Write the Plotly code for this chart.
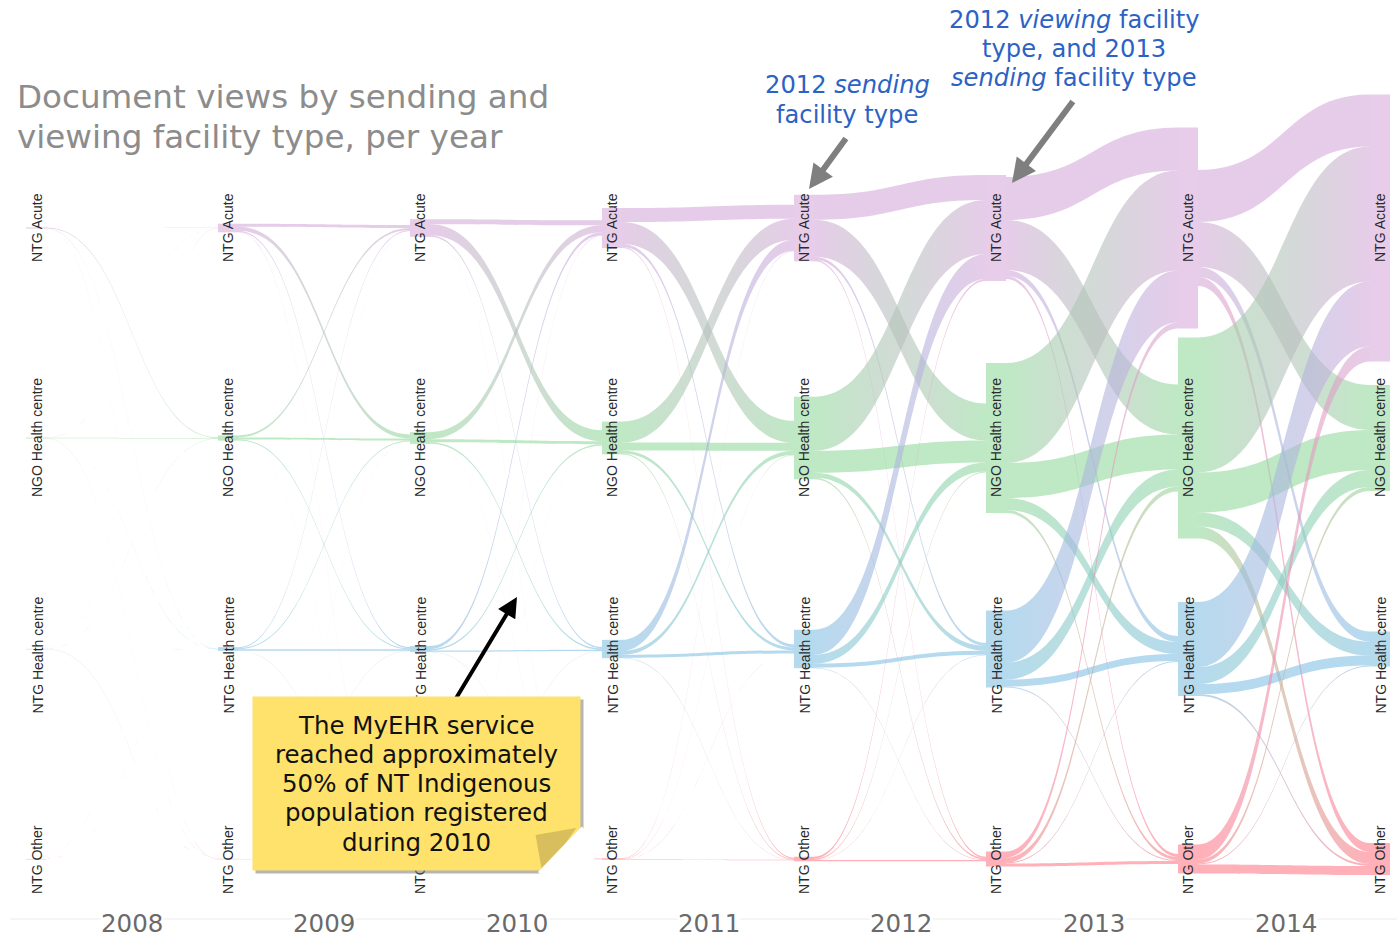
import json
import plotly.graph_objects as go

W, H = 1397, 938
years = ["2008", "2009", "2010", "2011", "2012", "2013", "2014"]
facilities = ["NTG Acute", "NGO Health centre", "NTG Health centre", "NTG Other"]

# flows between consecutive years: rows = sending facility, columns = viewing facility
flows_2008 = [[0.10, 0.70, 0.20, 0.20], [0.10, 0.50, 0.20, 0.10], [0.05, 0.10, 0.10, 0.05], [0.02, 0.03, 0.02, 0.05]]
flows_2009 = [[3.0, 4.0, 1.2, 0.4], [2.0, 2.0, 1.0, 0.2], [1.0, 1.0, 1.5, 0.1], [0.1, 0.1, 0.1, 0.1]]
flows_2010 = [[5.0, 11.0, 1.5, 0.2], [7.0, 3.0, 1.5, 0.2], [3.0, 1.5, 1.2, 0.2], [0.3, 0.2, 0.1, 0.2]]
flows_2011 = [[14.0, 22.0, 3.0, 1.0], [21.0, 8.0, 3.0, 0.8], [11.0, 4.0, 3.0, 0.3], [0.5, 0.3, 0.2, 0.5]]
flows_2012 = [[25.0, 37.0, 3.0, 1.5], [54.0, 22.0, 5.0, 1.5], [25.0, 9.0, 4.0, 0.5], [2.0, 1.0, 0.3, 1.2]]
flows_2013 = [[43.0, 50.0, 6.0, 3.0], [100.0, 35.0, 12.0, 3.0], [52.0, 17.0, 7.0, 1.0], [6.0, 5.0, 1.0, 3.0]]
flows_2014 = [[52.0, 45.0, 10.0, 9.0], [135.0, 40.0, 14.0, 12.0], [65.0, 17.0, 10.0, 2.0], [15.0, 4.0, 1.0, 9.0]]
all_flows = [flows_2008, flows_2009, flows_2010, flows_2011, flows_2012, flows_2013, flows_2014]

# layout of the columns and rows, in pixels
col_centers = [36 + 192 * i for i in range(8)]
row_centers = [228, 438, 649, 859]
label_centers = [228, 438, 655.5, 860]
THICK = 20
base_rgb = [(213, 170, 217), (148, 217, 157), (132, 193, 227), (255, 123, 137)]
node_rgb = ["#E7CDE9", "#BFE8C5", "#B5DAEE", "#FFB0B8"]
ALPHA = 0.6
CLEAR = "rgba(255,255,255,0.01)"

n_col, n_row = 8, 4
idx = lambda c, r: c * n_row + r
DUMMY_IN = n_col * n_row
DUMMY_OUT = DUMMY_IN + 1

in_sum = [[0.0] * n_row for _ in range(n_col)]
out_sum = [[0.0] * n_row for _ in range(n_col)]
src, tgt, val, col = [], [], [], []
for g, m in enumerate(all_flows):
    for s in range(n_row):
        for t in range(n_row):
            v = m[s][t]
            src.append(idx(g, s)); tgt.append(idx(g + 1, t)); val.append(v)
            a, b = base_rgb[s], base_rgb[t]
            c = tuple(round((a[k] + b[k]) / 2) for k in range(3))
            col.append(f"rgba({c[0]},{c[1]},{c[2]},{ALPHA})")
            out_sum[g][s] += v
            in_sum[g + 1][t] += v

# the reference centres each side's ribbons on its node: spacer links push them down
heights = [[max(in_sum[c][r], out_sum[c][r]) for r in range(n_row)] for c in range(n_col)]
pad_in_total = pad_out_total = 0.0
for c in range(n_col):
    for r in range(n_row):
        h = heights[c][r]
        if c < n_col - 1 and h - out_sum[c][r] > 0.01:
            p = (h - out_sum[c][r]) / 2
            src.append(idx(c, r)); tgt.append(DUMMY_OUT); val.append(p); col.append(CLEAR)
            pad_out_total += p
        if c > 0 and h - in_sum[c][r] > 0.01:
            p = (h - in_sum[c][r]) / 2
            src.append(DUMMY_IN); tgt.append(idx(c, r)); val.append(p); col.append(CLEAR)
            pad_in_total += p

# choose node padding so that one unit of value is exactly one pixel
col_totals = [sum(heights[c]) for c in range(n_col)]
col_totals[0] += pad_in_total
col_totals[-1] += pad_out_total
col_counts = [n_row] * n_col
col_counts[0] += 1
col_counts[-1] += 1
node_pad = min((H - t) / (n - 1) for t, n in zip(col_totals, col_counts))

node_x, node_y, node_col = [], [], []
for c in range(n_col):
    for r in range(n_row):
        node_x.append(col_centers[c] / W)
        node_y.append(row_centers[r] / H)
        node_col.append(node_rgb[r])
node_x += [0.001, 0.999]
node_y += [0.0001, 0.0001]
node_col += [CLEAR, CLEAR]

fig = go.Figure(go.Sankey(
    arrangement="fixed",
    domain=dict(x=[0, 1], y=[0, 1]),
    node=dict(x=node_x, y=node_y, color=node_col, thickness=THICK, pad=node_pad,
              line=dict(width=0), hoverinfo="none"),
    link=dict(source=src, target=tgt, value=val, color=col, hoverinfo="none", line=dict(width=0)),
))

X = lambda p: p / W
Y = lambda p: 1 - p / H
anns = []

def note(x, y, text, size, color, font="DejaVu Sans", angle=0, **kw):
    anns.append(dict(xref="paper", yref="paper", x=X(x), y=Y(y), text=text, showarrow=False,
                     font=dict(family=font, size=size, color=color), textangle=angle,
                     xanchor=kw.pop("xanchor", "center"), yanchor="middle", borderpad=0, **kw))

def arrow(x0, y0, x1, y1, color, width, size):
    anns.append(dict(xref="paper", yref="paper", x=X(x1), y=Y(y1), ax=x0 - x1, ay=y0 - y1,
                     axref="pixel", ayref="pixel", text="", showarrow=True, arrowhead=2,
                     arrowsize=size, arrowwidth=width, arrowcolor=color, standoff=0))

for c in range(n_col):
    for r in range(n_row):
        note(col_centers[c] + (1 if c == 0 else 0), label_centers[r], facilities[r], 14,
             "#2a2a2a", font="Liberation Sans", angle=-90)

for i, yr in enumerate(years):
    note(132 + 192.3 * i, 923, yr, 24.5, "#6a6a6a", bgcolor="white")

note(16, 97, "Document views by sending and", 32.6, "#8c8c8c", xanchor="left")
note(16, 137, "viewing facility type, per year", 32.6, "#8c8c8c", xanchor="left")

BLUE = "#2b62c4"
note(847, 85, "2012 <i>sending</i>", 24.2, BLUE)
note(847, 115, "facility type", 24.2, BLUE)
note(1074, 20, "2012 <i>viewing</i> facility", 24.2, BLUE)
note(1074, 49, "type, and 2013", 24.2, BLUE)
note(1074, 78, "<i>sending</i> facility type", 24.2, BLUE)
arrow(847, 137, 809, 189, "#7f7f7f", 6, 0.8)
arrow(1074, 100, 1012, 183, "#7f7f7f", 6, 0.8)
arrow(455, 700, 517, 597, "#000000", 4, 1.0)

# yellow note
note(419.5, 786, "&nbsp;", 10, "#000", bgcolor="rgba(120,120,120,0.55)", width=327, height=173)
note(416.5, 783.5, "&nbsp;", 10, "#000", bgcolor="#FEE26C", width=327, height=173)
note(559, 847, "◤", 54, "#D9BE5E", angle=-10)
note(571, 860, "&nbsp;", 10, "#000", bgcolor="white", width=62, height=30, angle=-46)
note(574, 866, "&nbsp;", 10, "#000", bgcolor="white", width=22, height=16)
for i, line in enumerate(["The MyEHR service", "reached approximately", "50% of NT Indigenous",
                          "population registered", "during 2010"]):
    note(416, 725 + 29.3 * i, line, 24.5, "#111111")

fig.update_layout(
    width=W, height=H, margin=dict(l=0, r=0, t=0, b=0, pad=0),
    paper_bgcolor="white", annotations=anns, showlegend=False,
    shapes=[dict(type="line", xref="paper", yref="paper", x0=X(10), x1=1, y0=Y(919), y1=Y(919),
                 line=dict(color="#ececec", width=1))],
)

# the reference's ribbons fade from the sender's colour to the viewer's:
# restyle the paths from the geometry that the Sankey trace has computed
post = """
document.body.style.margin='0';document.documentElement.style.overflow='hidden';
(function(){
 var NS='http://www.w3.org/2000/svg', RGB=%s, N=%d, A=%f;
 function css(c){return 'rgb('+c.join(',')+')';}
 function apply(){
  var paths=document.querySelectorAll('.sankey-link');
  if(!paths.length) return;
  var host=paths[0].ownerSVGElement, defs=host.querySelector('defs.ribbons');
  if(!defs){defs=document.createElementNS(NS,'defs');defs.setAttribute('class','ribbons');host.appendChild(defs);}
  paths.forEach(function(p,i){
   var d=p.__data__; if(!d||!d.link) return; var l=d.link;
   var si=l.source.pointNumber, ti=l.target.pointNumber;
   if(si>=N||ti>=N){p.style.setProperty('display','none');return;}
   var x0=l.source.x1,x1=l.target.x0,xm=(x0+x1)/2,h=l.width/2;
   p.setAttribute('d','M'+x0+','+(l.y0-h)+'C'+xm+','+(l.y0-h)+' '+xm+','+(l.y1-h)+' '+x1+','+(l.y1-h)+
     'L'+x1+','+(l.y1+h)+'C'+xm+','+(l.y1+h)+' '+xm+','+(l.y0+h)+' '+x0+','+(l.y0+h)+'Z');
   var id='rib'+i, g=defs.querySelector('#'+id);
   if(!g){g=document.createElementNS(NS,'linearGradient');g.setAttribute('id',id);defs.appendChild(g);
    [[0,si],[1,ti]].forEach(function(s){var st=document.createElementNS(NS,'stop');
     st.setAttribute('offset',s[0]);st.setAttribute('stop-color',css(RGB[s[1]%%4]));g.appendChild(st);});}
   g.setAttribute('gradientUnits','userSpaceOnUse');
   g.setAttribute('x1',x0);g.setAttribute('x2',x1);g.setAttribute('y1',0);g.setAttribute('y2',0);
   p.style.setProperty('fill','url(#'+id+')');p.style.setProperty('fill-opacity',A);
   p.style.setProperty('stroke','none');p.style.setProperty('stroke-width','0');p.style.setProperty('opacity','1');
  });
 }
 apply();[50,300,800,1500,2500].forEach(function(t){setTimeout(apply,t);});
})();
""" % (json.dumps([list(c) for c in base_rgb]), n_col * n_row, ALPHA)

fig.write_html("out.html", config=dict(displayModeBar=False), post_script=post)
